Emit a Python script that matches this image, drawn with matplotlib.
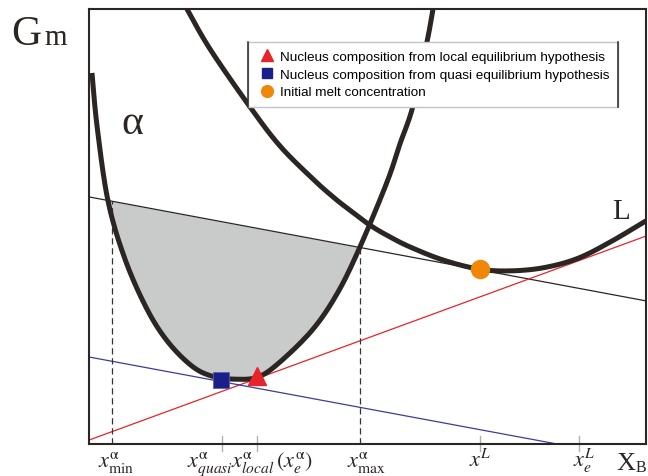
import matplotlib
matplotlib.use('Agg')
import matplotlib.pyplot as plt
import numpy as np
from matplotlib.lines import Line2D
from matplotlib.transforms import IdentityTransform

plt.rcParams['mathtext.fontset'] = 'stix'

# ---------------- data (schematic free-energy diagram, arbitrary units) -------------
# G-x curve of the alpha phase
alpha_x = [0.0054, 0.0144, 0.0341, 0.0646, 0.1041, 0.1418, 0.1849, 0.2208, 0.2621,
           0.3034, 0.3429, 0.4022, 0.4470, 0.4865, 0.5350, 0.5583, 0.5817, 0.6068, 0.6176]
alpha_g = [0.853, 0.731, 0.559, 0.425, 0.310, 0.2345, 0.179, 0.156, 0.149,
           0.154, 0.1885, 0.264, 0.349, 0.453, 0.602, 0.690, 0.777, 0.924, 1.000]
# G-x curve of the liquid
liq_x = [0.1759, 0.2172, 0.2890, 0.3429, 0.4022, 0.4381, 0.4632, 0.5045, 0.5404,
         0.5763, 0.6355, 0.7002, 0.7558, 0.8151, 0.8761, 0.9354, 1.0000]
liq_g = [1.000, 0.908, 0.775, 0.685, 0.609, 0.568, 0.5425, 0.503, 0.476,
         0.453, 0.423, 0.402, 0.398, 0.405, 0.426, 0.464, 0.513]
# straight lines (end points)
tangent_x = [0.0, 1.0]          # tangent to liquid at initial melt composition
tangent_g = [0.568, 0.329]
common_x = [0.0, 1.0]           # common tangent (red)
common_g = [0.009, 0.478]
parallel_x = [0.0, 1.0]         # parallel tangent to alpha (blue)
parallel_g = [0.200, -0.038]

x_min = 0.042
x_max = 0.486
tick_x = [0.238, 0.302, 0.702, 0.880]

quasi_pt = (0.237, 0.148)
local_pt = (0.3025, 0.157)
melt_pt = (0.702, 0.402)

legend_labels = ['Nucleus composition from local equilibrium hypothesis',
                 'Nucleus composition from quasi equilibrium hypothesis',
                 'Initial melt concentration']
x_labels = [r'$x^{\mathrm{\alpha}}_{\mathrm{min}}$',
            r'$x^{\mathrm{\alpha}}_{quasi}$',
            r'$x^{\mathrm{\alpha}}_{local}\,(x^{\mathrm{\alpha}}_{e})$',
            r'$x^{\mathrm{\alpha}}_{\mathrm{max}}$',
            r'$x^{L}$',
            r'$x^{L}_{e}$']
x_label_left_px = [98, 187, 231, 347, 469, 573]

# ---------------- styling -------------
W, H = 648, 477
dark = '#2b2523'
red = '#e8232a'
navy = '#1b1f8a'
blue = '#3c3c9c'
orange = '#f0870a'
fillc = '#c9cbcb'


def smooth(xs, ys, n=24):
    """Smooth drawing of a curve through the read points (Catmull-Rom -> Bezier)."""
    P = np.column_stack([xs, ys]).astype(float)
    out = [P[:1]]
    t = np.linspace(0, 1, n)[1:, None]
    for i in range(len(P) - 1):
        p0 = P[i - 1] if i > 0 else P[i]
        p1, p2 = P[i], P[i + 1]
        p3 = P[i + 2] if i + 2 < len(P) else P[i + 1]
        c1 = p1 + (p2 - p0) / 6
        c2 = p2 - (p3 - p1) / 6
        seg = ((1 - t) ** 3) * p1 + 3 * ((1 - t) ** 2) * t * c1 + 3 * (1 - t) * t ** 2 * c2 + t ** 3 * p2
        out.append(seg)
    Q = np.vstack(out)
    return Q[:, 0], Q[:, 1]


fig = plt.figure(figsize=(W / 100, H / 100), dpi=100)
ax = fig.add_axes([89 / W, 32 / H, 557 / W, 435 / H])
ax.set_xlim(0, 1)
ax.set_ylim(0, 1)
ax.set_xticks([])
ax.set_yticks([])
for s in ax.spines.values():
    s.set_linewidth(1.5)
    s.set_color(dark)

ax_s, ag_s = smooth(alpha_x, alpha_g)
lx_s, lg_s = smooth(liq_x, liq_g)

line_at = np.interp(ax_s, tangent_x, tangent_g)
ax.fill_between(ax_s, ag_s, line_at, where=(ag_s <= line_at),
                interpolate=True, color=fillc, lw=0, zorder=1)

ax.plot(tangent_x, tangent_g, color=dark, lw=0.9, zorder=2)
ax.plot(common_x, common_g, color=red, lw=0.9, zorder=2)
ax.plot(parallel_x, parallel_g, color=blue, lw=0.9, zorder=2)

top_min = np.interp(x_min, tangent_x, tangent_g)
top_max = np.interp(x_max, tangent_x, tangent_g)
ax.plot([x_min, x_min], [0, top_min], color='#333333', lw=0.9, ls=(0, (5, 3)), zorder=2)
ax.plot([x_max, x_max], [0, top_max], color='#333333', lw=0.9, ls=(0, (5, 3)), zorder=2)

for tx in tick_x:
    ax.plot([tx, tx], [0.018, -0.016], color='#b0b0b0', lw=1.0, clip_on=False, zorder=2)

ax.plot(ax_s, ag_s, color=dark, lw=3.6, solid_joinstyle='round',
        solid_capstyle='butt', zorder=3)
ax.plot(lx_s, lg_s, color=dark, lw=3.6, solid_joinstyle='round',
        solid_capstyle='butt', zorder=3)

ax.plot([quasi_pt[0]], [quasi_pt[1]], marker='s', ms=12, color=navy,
        mec='#5a5db0', mew=0.6, ls='', zorder=6)
ax.plot([local_pt[0]], [local_pt[1]], marker='^', ms=13.5, color=red,
        mec=red, ls='', zorder=6)
ax.plot([melt_pt[0]], [melt_pt[1]], marker='o', ms=13, color=orange,
        mec=orange, ls='', zorder=6)

handles = [Line2D([], [], marker='^', ls='', color=red, ms=8.5),
           Line2D([], [], marker='s', ls='', color=navy, ms=7),
           Line2D([], [], marker='o', ls='', color=orange, ms=8.5)]
leg = ax.legend(handles, legend_labels, loc='upper left',
                bbox_to_anchor=(248 / W, 1 - 43 / H), bbox_transform=fig.transFigure,
                borderaxespad=0, borderpad=0.65, handlelength=1.5, handletextpad=0.2,
                labelspacing=0.38, prop={'family': 'Liberation Sans', 'size': 9.7},
                frameon=True, fancybox=False, framealpha=1, edgecolor='#c4c4c4')
leg.get_frame().set_linewidth(1.0)
leg.set_zorder(10)

# text labels
serif = 'Liberation Serif'
fig.text(11 / W, 1 - 45 / H, 'G', family=serif, size=30, color=dark, va='baseline')
fig.text(44 / W, 1 - 45 / H, 'm', family=serif, size=21, color=dark, va='baseline')
fig.text(121 / W, 1 - 134 / H, 'α', family=serif, size=30, color=dark, va='baseline')
fig.text(612 / W, 1 - 219 / H, 'L', family=serif, size=21, color=dark, va='baseline')
for lab, px in zip(x_labels, x_label_left_px):
    fig.text(px / W, 1 - 467 / H, lab, size=16, color=dark, va='baseline', ha='left')
fig.text(616 / W, 1 - 470 / H, 'X', family=serif, size=19, color=dark, va='baseline')
fig.text(636 / W, 1 - 472 / H, 'B', family=serif, size=11.5, color=dark, va='baseline')

fig.canvas.draw()
bb = leg.get_frame().get_window_extent()
for xx in (bb.x0, bb.x1):
    fig.add_artist(Line2D([xx, xx], [bb.y0, bb.y1], transform=IdentityTransform(),
                          color=dark, lw=1.1, zorder=11))

fig.savefig('out.png', dpi=100)
